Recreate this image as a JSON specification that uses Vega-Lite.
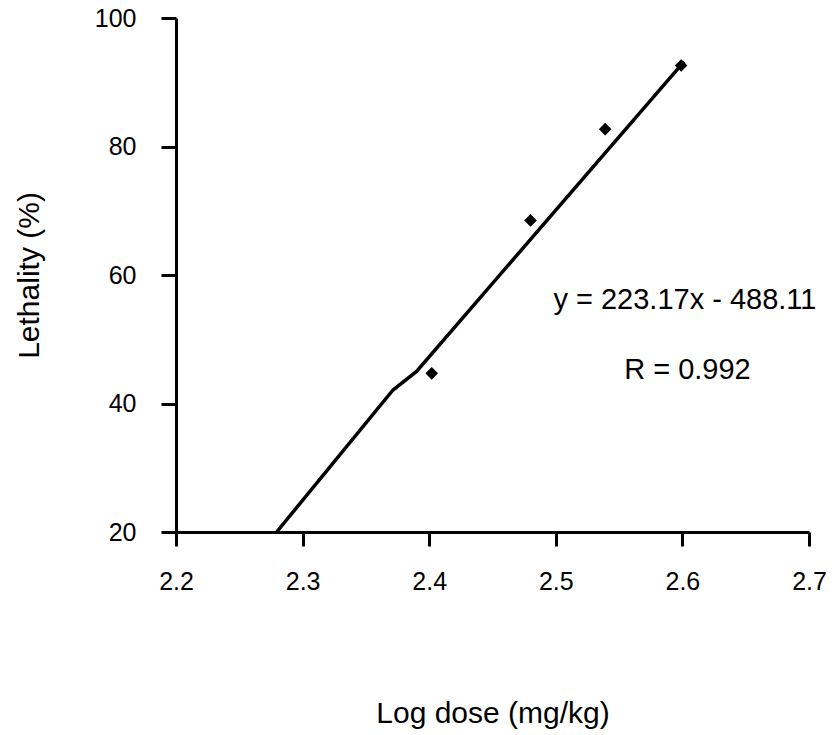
{
  "$schema": "https://vega.github.io/schema/vega-lite/v6.json",
  "autosize": "none",
  "width": 633,
  "height": 514,
  "padding": {"left": 176, "top": 18, "right": 25, "bottom": 203},
  "background": "white",
  "config": {
    "view": {"stroke": null},
    "font": "Liberation Sans",
    "axis": {"grid": false, "domainColor": "black", "tickColor": "black", "labelColor": "black", "titleColor": "black", "titleFontWeight": "normal", "labelFont": "Liberation Sans", "titleFont": "Liberation Sans"}
  },
  "datasets": {
    "pts": [
      {"dose": 2.402, "lethality": 44.7},
      {"dose": 2.480, "lethality": 68.5},
      {"dose": 2.539, "lethality": 82.7},
      {"dose": 2.599, "lethality": 92.6}
    ],
    "fit": [
      {"dose": 2.2795, "lethality": 20.0},
      {"dose": 2.3714, "lethality": 42.1},
      {"dose": 2.3900, "lethality": 45.0},
      {"dose": 2.6013, "lethality": 93.2}
    ],
    "notes": [
      {"dose": 2.602, "lethality": 56.1, "label": "y = 223.17x - 488.11"},
      {"dose": 2.604, "lethality": 45.2, "label": "R = 0.992"}
    ]
  },
  "layer": [
    {
      "data": {"name": "fit"},
      "mark": {"type": "line", "color": "black", "strokeWidth": 3.5},
      "encoding": {
        "x": {"field": "dose", "type": "quantitative", "scale": {"domain": [2.2, 2.7], "nice": false, "zero": false},
          "axis": {"title": "Log dose (mg/kg)", "values": [2.2, 2.3, 2.4, 2.5, 2.6, 2.7], "format": ".1f", "domainWidth": 3, "tickWidth": 3, "tickSize": 14, "labelFontSize": 25, "labelPadding": 23, "titleFontSize": 30, "titlePadding": 104, "labelFlush": false}},
        "y": {"field": "lethality", "type": "quantitative", "scale": {"domain": [20, 100], "nice": false, "zero": false},
          "axis": {"title": "Lethality (%)", "values": [20, 40, 60, 80, 100], "domainWidth": 3, "tickWidth": 3, "tickSize": 15, "labelFontSize": 25, "labelPadding": 25, "titleFontSize": 30, "titlePadding": 50, "labelFlush": false}}
      }
    },
    {
      "data": {"name": "pts"},
      "mark": {"type": "point", "shape": "diamond", "filled": true, "color": "black", "size": 160, "opacity": 1},
      "encoding": {
        "x": {"field": "dose", "type": "quantitative"},
        "y": {"field": "lethality", "type": "quantitative"}
      }
    },
    {
      "data": {"name": "notes"},
      "mark": {"type": "text", "fontSize": 29, "color": "black", "align": "center", "baseline": "middle", "font": "Liberation Sans"},
      "encoding": {
        "x": {"field": "dose", "type": "quantitative"},
        "y": {"field": "lethality", "type": "quantitative"},
        "text": {"field": "label"}
      }
    }
  ]
}
